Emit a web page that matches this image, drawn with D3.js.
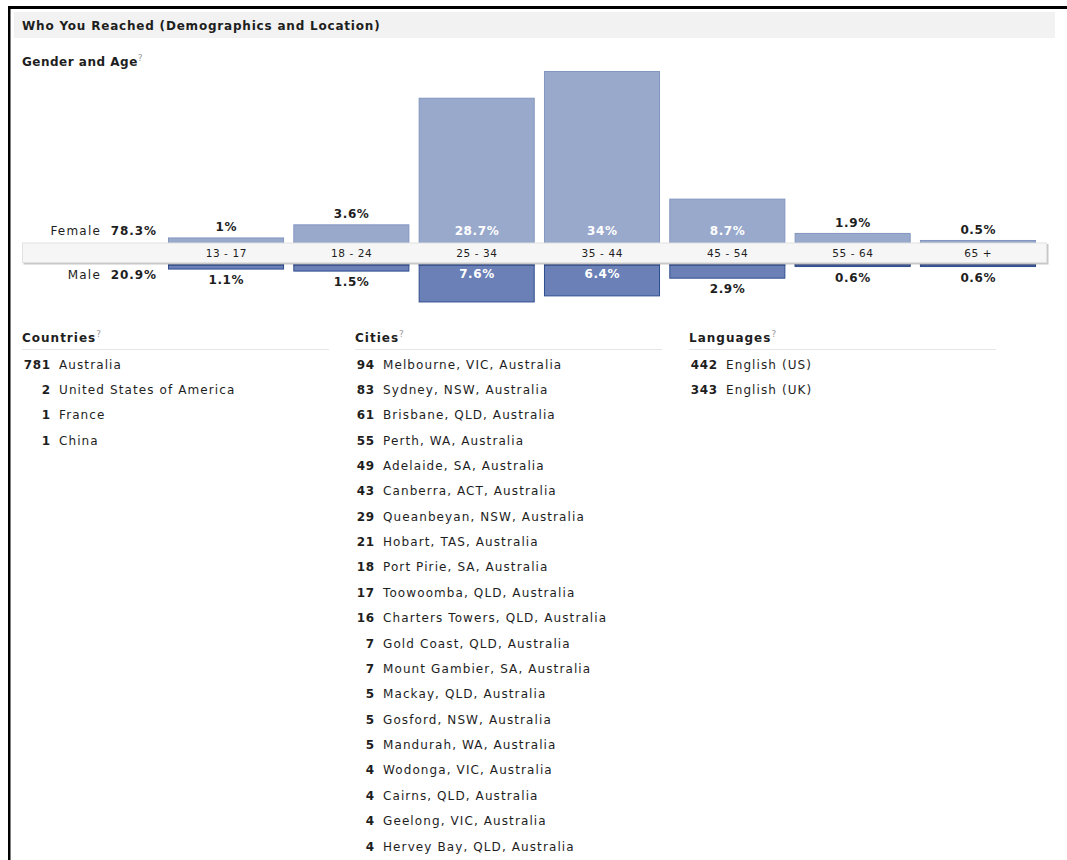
<!DOCTYPE html>
<html lang="en">
  <head>
    <meta charset="UTF-8" />
    <title>Who You Reached</title>
    <style>
      body { margin: 0; background: #fff; }
      svg text { font-family: "DejaVu Sans", Verdana, sans-serif; fill: #1e1e1e; }
    </style>
  </head>
  <body>
    <script src="https://d3js.org/d3.v7.min.js"></script>
    <script>
      // gender and age
      const ageGroups = ["13-17", "18-24", "25-34", "35-44", "45-54", "55-64", "65+"];
      const female = [1, 3.6, 28.7, 34, 8.7, 1.9, 0.5];
      const male = [1.1, 1.5, 7.6, 6.4, 2.9, 0.6, 0.6];
      const femaleTotal = "78.3%";
      const maleTotal = "20.9%";

      // lists
      const countryCounts = [781, 2, 1, 1];
      const countryNames = ["Australia", "United States of America", "France", "China"];
      const cityCounts = [94, 83, 61, 55, 49, 43, 29, 21, 18, 17, 16, 7, 7, 5, 5, 5, 4, 4, 4, 4];
      const cityNames = [
        "Melbourne, VIC, Australia", "Sydney, NSW, Australia", "Brisbane, QLD, Australia",
        "Perth, WA, Australia", "Adelaide, SA, Australia", "Canberra, ACT, Australia",
        "Queanbeyan, NSW, Australia", "Hobart, TAS, Australia", "Port Pirie, SA, Australia",
        "Toowoomba, QLD, Australia", "Charters Towers, QLD, Australia", "Gold Coast, QLD, Australia",
        "Mount Gambier, SA, Australia", "Mackay, QLD, Australia", "Gosford, NSW, Australia",
        "Mandurah, WA, Australia", "Wodonga, VIC, Australia", "Cairns, QLD, Australia",
        "Geelong, VIC, Australia", "Hervey Bay, QLD, Australia"
      ];
      const languageCounts = [442, 343];
      const languageNames = ["English (US)", "English (UK)"];

      const W = 1067, H = 860;
      const svg = d3.select("body").append("svg").attr("width", W).attr("height", H);

      // frame
      svg.append("rect").attr("x", 8).attr("y", 6).attr("width", W).attr("height", 3).attr("fill", "#000");
      svg.append("rect").attr("x", 8).attr("y", 6).attr("width", 2.5).attr("height", H).attr("fill", "#000");

      // title bar
      svg.append("rect").attr("x", 14).attr("y", 12).attr("width", 1041).attr("height", 26).attr("fill", "#f2f2f2");
      svg.append("text").attr("x", 22).attr("y", 29.5)
        .attr("font-size", 12).attr("font-weight", "bold").attr("letter-spacing", 0.8)
        .text("Who You Reached (Demographics and Location)");

      function heading(x, y, label, ls) {
        const t = svg.append("text").attr("x", x).attr("y", y)
          .attr("font-size", 12).attr("font-weight", "bold").attr("letter-spacing", ls);
        t.append("tspan").text(label);
        t.append("tspan").attr("dy", -5).attr("font-size", 9).attr("font-weight", "normal")
          .style("fill", "#999").text("?");
      }
      heading(22, 66, "Gender and Age", 0.5);

      // chart scales
      const x = d3.scaleBand().domain(ageGroups).range([168, 1036]).paddingInner(0.074).paddingOuter(0);
      const stripTop = 242.5, stripBottom = 263;
      const yF = d3.scaleLinear().domain([0, 34]).range([stripTop, 71]);
      const yM = d3.scaleLinear().domain([0, 34]).range([stripBottom, stripBottom + 172]);
      const inside = 5;
      const mid = d => x(d) + x.bandwidth() / 2;

      // female bars
      const fg = svg.append("g");
      fg.selectAll("rect").data(female).join("rect")
        .attr("x", (d, i) => x(ageGroups[i]) + 0.5)
        .attr("y", d => yF(d) + 0.5)
        .attr("width", x.bandwidth() - 1)
        .attr("height", d => yF(0) - yF(d))
        .attr("fill", "#99a9cc").attr("stroke", "#8396c0");
      fg.selectAll("text").data(female).join("text")
        .attr("x", (d, i) => mid(ageGroups[i]) + 0.3)
        .attr("y", d => d > inside ? yF(0) - 7.5 : yF(d) - 6)
        .attr("text-anchor", "middle").attr("font-size", 12).attr("font-weight", "bold")
        .attr("letter-spacing", 0.6)
        .style("fill", d => d > inside ? "#fff" : "#1e1e1e")
        .text(d => d + "%");

      // male bars
      const mg = svg.append("g");
      mg.selectAll("rect.bar").data(male).join("rect").attr("class", "bar")
        .attr("x", (d, i) => x(ageGroups[i]) + 0.5)
        .attr("y", yM(0) + 0.5)
        .attr("width", x.bandwidth() - 1)
        .attr("height", d => yM(d) - yM(0))
        .attr("fill", "#6a80b6").attr("stroke", "#2f4d90");
      mg.selectAll("rect.top").data(male).join("rect").attr("class", "top")
        .attr("x", (d, i) => x(ageGroups[i]))
        .attr("y", yM(0))
        .attr("width", x.bandwidth())
        .attr("height", 2.5)
        .attr("fill", "#152c6b");
      mg.selectAll("text").data(male).join("text")
        .attr("x", (d, i) => mid(ageGroups[i]) + 0.3)
        .attr("y", d => d > inside ? yM(0) + 15 : yM(d) + 15.5)
        .attr("text-anchor", "middle").attr("font-size", 12).attr("font-weight", "bold")
        .attr("letter-spacing", 0.6)
        .style("fill", d => d > inside ? "#fff" : "#1e1e1e")
        .text(d => d + "%");

      // age strip
      svg.append("rect").attr("x", 23.5).attr("y", stripTop + 1.5).attr("width", 1025).attr("height", stripBottom - stripTop)
        .attr("fill", "#c8c8c8");
      svg.append("rect").attr("x", 22.5).attr("y", stripTop + 0.5).attr("width", 1024).attr("height", stripBottom - stripTop - 1)
        .attr("fill", "#f6f6f6").attr("stroke", "#e2e2e2");
      svg.append("g").selectAll("text").data(ageGroups).join("text")
        .attr("x", d => mid(d) + 0.3)
        .attr("y", (stripTop + stripBottom) / 2 + 4)
        .attr("text-anchor", "middle").attr("font-size", 10.5).attr("letter-spacing", 0.6)
        .text(d => d.replace("-", " - ").replace("+", " +"));

      // gender totals
      const totals = [["Female", femaleTotal, 235], ["Male", maleTotal, 279]];
      totals.forEach(([g, v, ty]) => {
        svg.append("text").attr("x", 101).attr("y", ty).attr("text-anchor", "end")
          .attr("font-size", 12).attr("letter-spacing", 1.2).text(g);
        svg.append("text").attr("x", 157).attr("y", ty).attr("text-anchor", "end")
          .attr("font-size", 12).attr("font-weight", "bold").attr("letter-spacing", 0.9).text(v);
      });

      // lists
      const rowY = d3.scaleLinear().domain([0, 19]).range([368.5, 850.5]);
      function list(x0, title, counts, names, numW) {
        heading(x0, 342, title, 1.0);
        svg.append("line").attr("x1", x0).attr("x2", x0 + 307).attr("y1", 349.5).attr("y2", 349.5)
          .attr("stroke", "#e6e6e6");
        const g = svg.append("g");
        g.selectAll("text.n").data(counts).join("text").attr("class", "n")
          .attr("x", x0 + numW + 0.6).attr("y", (d, i) => rowY(i))
          .attr("text-anchor", "end").attr("font-size", 12).attr("font-weight", "bold")
          .attr("letter-spacing", 0.6)
          .text(d => d);
        g.selectAll("text.l").data(names).join("text").attr("class", "l")
          .attr("x", x0 + numW + 9).attr("y", (d, i) => rowY(i))
          .attr("font-size", 12).attr("letter-spacing", 1.1).text(d => d);
      }
      list(22, "Countries", countryCounts, countryNames, 28);
      list(355, "Cities", cityCounts, cityNames, 19);
      list(689, "Languages", languageCounts, languageNames, 28);
    </script>
  </body>
</html>
